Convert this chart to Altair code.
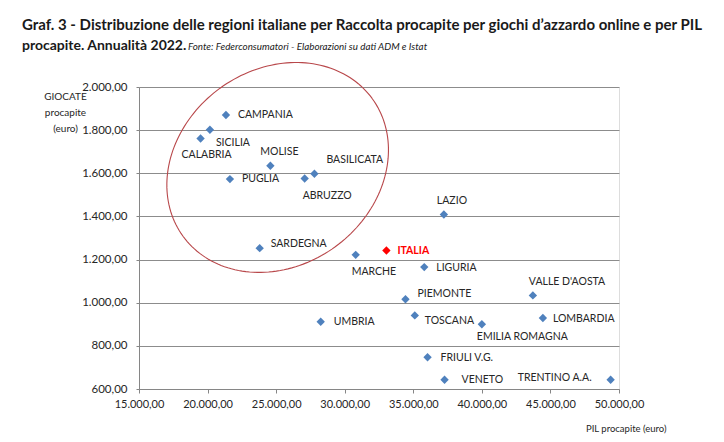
import altair as alt
import pandas as pd
import numpy as np

# ---------------- data ----------------
regions = ["CAMPANIA", "SICILIA", "CALABRIA", "MOLISE", "PUGLIA", "ABRUZZO",
           "BASILICATA", "SARDEGNA", "MARCHE", "LAZIO", "LIGURIA", "PIEMONTE",
           "VALLE D'AOSTA", "UMBRIA", "TOSCANA", "EMILIA ROMAGNA", "LOMBARDIA",
           "FRIULI V.G.", "VENETO", "TRENTINO  A.A."]
pil = [21340, 20170, 19490, 24580, 21630, 27080, 27790, 23800, 30800, 37230,
       35800, 34430, 43720, 28250, 35110, 40000, 44450, 36040, 37280, 49390]
giocate = [1870, 1802, 1761, 1635, 1573, 1576, 1598, 1253, 1222, 1409,
           1165, 1016, 1034, 912, 941, 900, 929, 747, 643, 643]

italia_name = ["ITALIA"]
italia_pil = [33040]
italia_giocate = [1242]

x_ticks = [15000, 20000, 25000, 30000, 35000, 40000, 45000, 50000]
y_ticks = [600, 800, 1000, 1200, 1400, 1600, 1800, 2000]

title_line1 = "Graf. 3 - Distribuzione delle regioni italiane per Raccolta procapite per giochi d\u2019azzardo online e per PIL"
title_line2 = "procapite. Annualit\u00e0 2022."
source_text = "Fonte: Federconsumatori - Elaborazioni su dati ADM e Istat"
x_title = "PIL procapite (euro)"
y_title = ["GIOCATE", "procapite", "(euro)"]

# label placement (pixel offsets from the marker, alignment)
label_pos = {
    "CAMPANIA": (12, 0, "left"), "SICILIA": (6, 13, "left"),
    "CALABRIA": (6, 16, "center"), "MOLISE": (9, -14, "center"),
    "PUGLIA": (12, 0, "left"), "ABRUZZO": (-2, 18, "left"),
    "BASILICATA": (12, -14, "left"), "SARDEGNA": (11, -4, "left"),
    "MARCHE": (-4, 17, "left"), "LAZIO": (-7, -13, "left"),
    "LIGURIA": (12, 1, "left"), "PIEMONTE": (12, -5, "left"),
    "VALLE D'AOSTA": (-4, -13, "left"), "UMBRIA": (13, 0, "left"),
    "TOSCANA": (10, 6, "left"), "EMILIA ROMAGNA": (-5, 13, "left"),
    "LOMBARDIA": (10, 1, "left"), "FRIULI V.G.": (13, 1, "left"),
    "VENETO": (17, 0, "left"), "TRENTINO  A.A.": (-19, -2, "right"),
}

# ellipse annotation (centre in data units, radii in pixels, tilt in degrees)
ell_center = (25110, 1627)
ell_a, ell_b, ell_tilt = 117, 98, 36

# ---------------- layout ----------------
W, H = 480, 302
XMIN, XMAX = 15000, 50000
YMIN, YMAX = 600, 2000
FONT = "Lato"
BLUE = "#4F81BD"
TXT = "#262626"

df = pd.DataFrame({"region": regions, "pil": pil, "giocate": giocate})
it = pd.DataFrame({"region": italia_name, "pil": italia_pil, "giocate": italia_giocate})

# ellipse outline points
t = np.linspace(0, 2 * np.pi, 181)
phi = np.deg2rad(ell_tilt)
dxp = ell_a * np.cos(t) * np.cos(phi) + ell_b * np.sin(t) * np.sin(phi)
dyp = -ell_a * np.cos(t) * np.sin(phi) + ell_b * np.sin(t) * np.cos(phi)
ell = pd.DataFrame({
    "pil": ell_center[0] + dxp * (XMAX - XMIN) / W,
    "giocate": ell_center[1] - dyp * (YMAX - YMIN) / H,
    "i": np.arange(len(t)),
})

fmt = "replace(replace(replace(format(datum.value, ',.2f'), ',', '#'), '.', ','), '#', '.')"

xs = alt.Scale(domain=[XMIN, XMAX], nice=False, zero=False)
ys = alt.Scale(domain=[YMIN, YMAX], nice=False, zero=False)

xaxis = alt.Axis(values=x_ticks, labelExpr=fmt, grid=False, ticks=True, tickSize=4,
                 tickColor="#868686", domainColor="#868686", labelFontSize=11,
                 labelColor=TXT, labelFont=FONT, labelPadding=5, labelOverlap=False,
                 labelFlush=False, labelBound=False,
                 title=x_title, titleFont=FONT, titleFontSize=9.5, titleFontWeight="normal",
                 titleColor=TXT, titleX=527, titleY=39, titleAlign="right",
                 titleBaseline="middle")
yaxis = alt.Axis(values=y_ticks, labelExpr=fmt, grid=True, gridColor="#8C8C8C",
                 ticks=True, tickSize=3, tickColor="#868686", domainColor="#868686",
                 labelFontSize=11.5, labelColor=TXT, labelFont=FONT, labelPadding=9,
                 labelOverlap=False, labelFlush=False, labelBound=False,
                 title=y_title, titleFont=FONT, titleFontSize=10, titleFontWeight="normal",
                 titleColor=TXT, titleAngle=0, titleX=-74, titleY=4, titleAlign="center",
                 titleBaseline="top", titleLineHeight=16)

X = alt.X("pil:Q", scale=xs, axis=xaxis)
Y = alt.Y("giocate:Q", scale=ys, axis=yaxis)

ellipse = alt.Chart(ell).mark_line(color="#B8474A", strokeWidth=1.1).encode(
    x=X, y=Y, order="i:Q")

points = alt.Chart(df).mark_point(shape="diamond", filled=True, size=70, color=BLUE,
                                  opacity=1).encode(x=X, y=Y)
italia_pt = alt.Chart(it).mark_point(shape="diamond", filled=True, size=70, color="#FF0000",
                                     opacity=1).encode(x=X, y=Y)

label_layers = []
for name, (dx, dy, al) in label_pos.items():
    label_layers.append(
        alt.Chart(df[df["region"] == name]).mark_text(
            dx=dx, dy=dy, align=al, baseline="middle", font=FONT, fontSize=10.5,
            color=TXT).encode(x=X, y=Y, text="region:N"))

italia_lbl = alt.Chart(it).mark_text(dx=11, dy=0, align="left", baseline="middle",
                                     font=FONT, fontSize=10.5, fontWeight="bold",
                                     color="#FF0000").encode(x=X, y=Y, text="region:N")

t1 = alt.Chart(pd.DataFrame({"t": [title_line1]})).mark_text(
    align="left", baseline="middle", font=FONT, fontSize=15, fontWeight="bold",
    color="#1a1a1a").encode(x=alt.value(-117), y=alt.value(-62), text="t:N")
t2 = alt.Chart(pd.DataFrame({"t": [title_line2]})).mark_text(
    align="left", baseline="middle", font=FONT, fontSize=14, fontWeight="bold",
    color="#1a1a1a").encode(x=alt.value(-117), y=alt.value(-41), text="t:N")
t3 = alt.Chart(pd.DataFrame({"t": [source_text]})).mark_text(
    align="left", baseline="middle", font=FONT, fontSize=9.8, fontStyle="italic",
    color="#1a1a1a").encode(x=alt.value(49), y=alt.value(-40), text="t:N")

chart = alt.layer(ellipse, points, italia_pt, *label_layers, italia_lbl, t1, t2, t3).properties(
    width=W, height=H,
    autosize=alt.AutoSizeParams(type="none"),
    padding={"left": 131, "top": 79, "right": 90, "bottom": 52},
).configure_view(stroke=None).configure(background="white")

chart.save("out.html", embed_options={"renderer": "svg", "actions": False})
